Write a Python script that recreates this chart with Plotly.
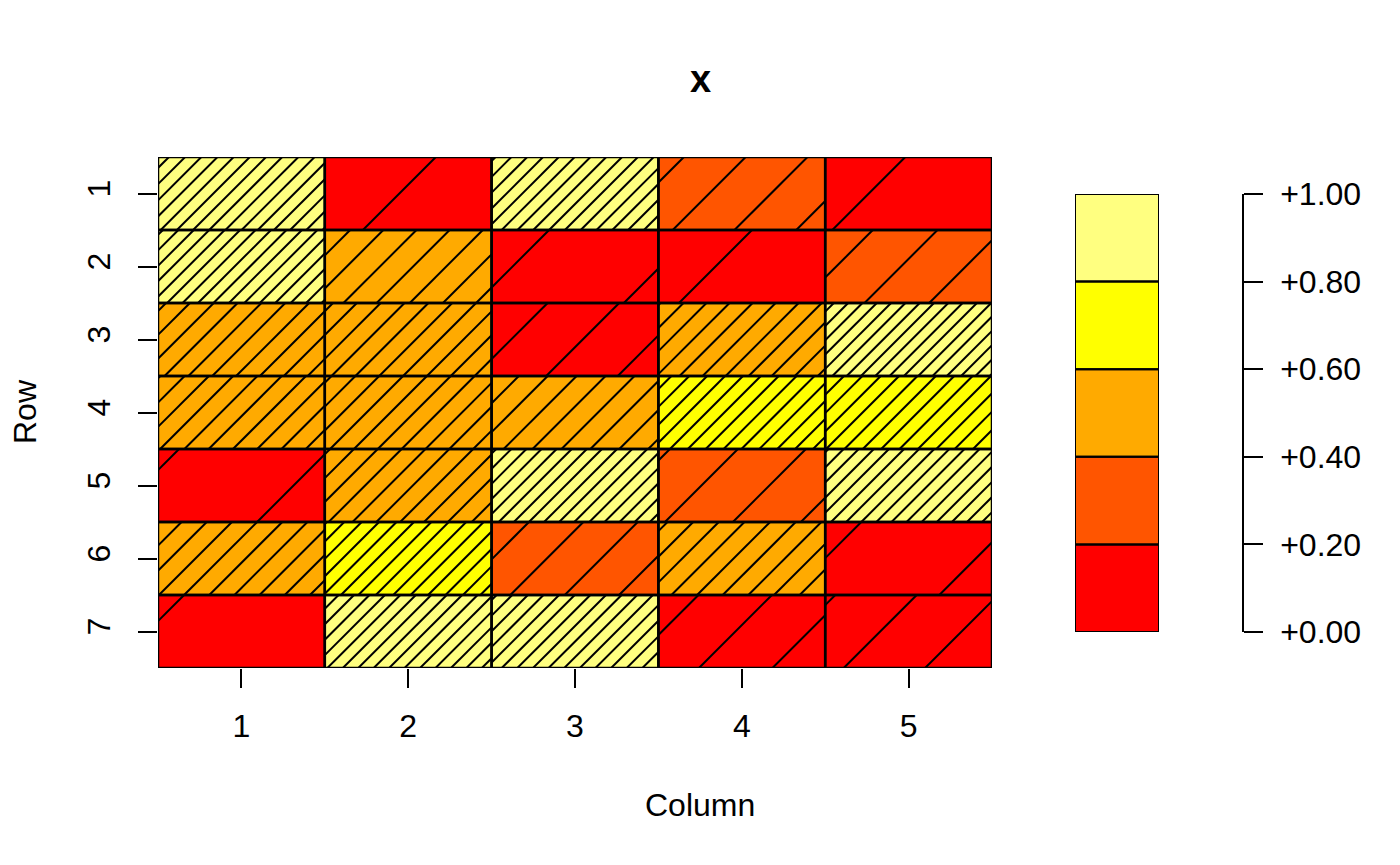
import numpy as np
import plotly.graph_objects as go

# ---------------- data ----------------
col_labels = ["1", "2", "3", "4", "5"]
row_labels = ["1", "2", "3", "4", "5", "6", "7"]
values = [
    [0.84, 0.073, 0.86, 0.22, 0.048],
    [0.88, 0.41, 0.092, 0.067, 0.21],
    [0.57, 0.57, 0.19, 0.59, 0.95],
    [0.56, 0.57, 0.47, 0.76, 0.74],
    [0.09, 0.57, 0.90, 0.20, 0.90],
    [0.54, 0.78, 0.25, 0.53, 0.09],
    [0.05, 0.88, 0.87, 0.185, 0.167],
]
key_breaks = [0.0, 0.2, 0.4, 0.6, 0.8, 1.0]
key_colors = ["#FF0000", "#FF5500", "#FFAA00", "#FFFF00", "#FFFF80"]
key_labels = ["%+.2f" % b for b in key_breaks]
title_text = "x"
xlab = "Column"
ylab = "Row"

# ---------------- layout constants ----------------
W, H = 1400, 865
FONT = "Liberation Sans, Arial, Helvetica, sans-serif"
PL, PR, PT, PB = 158, 992, 157, 668          # main plot region (px)
KL, KR, KT, KB = 1075, 1159, 194, 632        # key bar (px)
KAX = 1243                                   # key axis line x (px)
HATCH_SCALE = 0.0815                         # hatch spacing (x units) * value

nr, nc = len(row_labels), len(col_labels)
z = np.array(values)

# discrete colorscale
cs = []
for i, c in enumerate(key_colors):
    cs.append([key_breaks[i], c])
    cs.append([key_breaks[i + 1], c])

fig = go.Figure()

# main cells (row 1 at top: y = nr - i)
ys = [nr - i for i in range(nr)]
xs = list(range(1, nc + 1))
fig.add_trace(go.Heatmap(x=xs, y=ys, z=z, colorscale=cs, zmin=0, zmax=1,
                         showscale=False, hoverinfo="skip", xaxis="x", yaxis="y"))

# hatch lines at 45 degrees (screen), anchored at user origin like R's polygon hatching
px_per_x = (PR - PL) / nc
px_per_y = (PB - PT) / nr
r = px_per_y / px_per_x
hx, hy = [], []
for i in range(nr):
    for j in range(nc):
        v = z[i, j]
        s = HATCH_SCALE / v
        xl, xr = xs[j] - 0.5, xs[j] + 0.5
        yb, yt = ys[i] - 0.5, ys[i] + 0.5
        kmin = int(np.ceil((xl - r * yt) / s))
        kmax = int(np.floor((xr - r * yb) / s))
        for k in range(kmin, kmax + 1):
            X0 = k * s
            y0 = max(yb, (xl - X0) / r)
            y1 = min(yt, (xr - X0) / r)
            if y1 > y0:
                hx += [X0 + r * y0, X0 + r * y1, None]
                hy += [y0, y1, None]
fig.add_trace(go.Scatter(x=hx, y=hy, mode="lines", line=dict(color="black", width=2),
                         hoverinfo="skip", showlegend=False, xaxis="x", yaxis="y"))

shapes = []
for i in range(nr):
    for j in range(nc):
        shapes.append(dict(type="rect", xref="x", yref="y",
                           x0=xs[j] - 0.5, x1=xs[j] + 0.5, y0=ys[i] - 0.5, y1=ys[i] + 0.5,
                           line=dict(color="black", width=2.5), fillcolor="rgba(0,0,0,0)"))

# key
kmid = [(key_breaks[i] + key_breaks[i + 1]) / 2 for i in range(len(key_colors))]
fig.add_trace(go.Heatmap(x=[0], y=kmid, z=[[m] for m in kmid], colorscale=cs, zmin=0, zmax=1,
                         showscale=False, hoverinfo="skip", xaxis="x2", yaxis="y2"))
for i in range(len(key_colors)):
    shapes.append(dict(type="rect", xref="x2", yref="y2", x0=-0.5, x1=0.5,
                       y0=key_breaks[i], y1=key_breaks[i + 1],
                       line=dict(color="black", width=2), fillcolor="rgba(0,0,0,0)"))

tickfont = dict(family=FONT, size=32, color="black")
fig.update_layout(
    width=W, height=H, margin=dict(l=0, r=0, t=0, b=0, pad=0, autoexpand=False),
    paper_bgcolor="white", plot_bgcolor="white", showlegend=False,
    xaxis=dict(domain=[PL / W, PR / W], range=[0.5, nc + 0.5], tickvals=xs, ticktext=col_labels,
               ticks="outside", ticklen=19, tickwidth=2, tickcolor="black", showgrid=False,
               zeroline=False, showline=False, tickfont=tickfont, anchor="y",
               ticklabelstandoff=11, automargin=False),
    yaxis=dict(domain=[1 - PB / H, 1 - PT / H], range=[0.5, nr + 0.5], tickvals=ys,
               ticktext=row_labels, ticks="outside", ticklen=19, tickwidth=2, tickcolor="black",
               showgrid=False, zeroline=False, showline=False, tickfont=tickfont,
               tickangle=-90, anchor="x", ticklabelstandoff=15, automargin=False),
    xaxis2=dict(domain=[KL / W, KR / W], range=[-0.5, 0.5], visible=False, anchor="y2",
                automargin=False),
    yaxis2=dict(domain=[1 - KB / H, 1 - KT / H], range=[0, 1], anchor="free", position=KAX / W,
                side="right", tickvals=key_breaks, ticktext=key_labels, ticks="outside",
                ticklen=19, tickwidth=1.5, tickcolor="black", showline=True, linewidth=1.5,
                linecolor="black", showgrid=False, zeroline=False, tickfont=tickfont,
                ticklabelstandoff=11, automargin=False),
    shapes=shapes,
    annotations=[
        dict(text="<b>%s</b>" % title_text, x=0.5, y=1 - 79 / H, xref="paper", yref="paper",
             showarrow=False, font=dict(family=FONT, size=38, color="black"),
             xanchor="center", yanchor="middle"),
        dict(text=xlab, x=700 / W, y=1 - 805 / H, xref="paper", yref="paper", showarrow=False,
             font=dict(family=FONT, size=32, color="black"), xanchor="center", yanchor="middle"),
        dict(text=ylab, x=25 / W, y=1 - 412 / H, xref="paper", yref="paper", showarrow=False,
             textangle=-90, font=dict(family=FONT, size=32, color="black"),
             xanchor="center", yanchor="middle"),
    ],
)

fig.write_html("out.html")
